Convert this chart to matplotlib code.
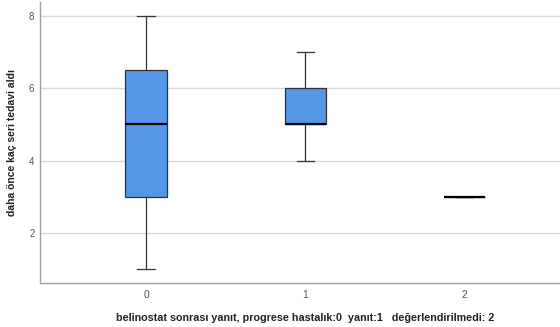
import matplotlib
matplotlib.use("Agg")
import matplotlib.pyplot as plt

categories = ["0", "1", "2"]
whislo = [1, 4, 3]
q1 = [3, 5, 3]
med = [5, 5, 3]
q3 = [6.5, 6, 3]
whishi = [8, 7, 3]
yticks = [2, 4, 6, 8]

plt.rcParams['font.family'] = ['Liberation Sans', 'DejaVu Sans']

fig = plt.figure(figsize=(5.6, 3.27), dpi=100)
ax = fig.add_axes([40/560, 1-283/327, 1-40/560, 281/327])

stats = []
for i, c in enumerate(categories):
    stats.append(dict(label=c, whislo=whislo[i], q1=q1[i], med=med[i],
                      q3=q3[i], whishi=whishi[i], fliers=[]))

ax.bxp(stats, positions=range(len(categories)), widths=0.26, patch_artist=True,
       boxprops=dict(facecolor='#5596e6', edgecolor='#333333', linewidth=0.9),
       medianprops=dict(color='black', linewidth=1.6),
       whiskerprops=dict(color='#333333', linewidth=0.9),
       capprops=dict(color='#333333', linewidth=0.9),
       capwidths=0.11, showfliers=False, zorder=3)

ax.set_xlim(-0.667, 2.6)
ax.set_ylim(0.61, 8.39)
ax.set_yticks(yticks)
ax.set_yticklabels([str(t) for t in yticks])
ax.grid(axis='y', color='#d9d9d9', linewidth=1.0, zorder=0)
ax.set_axisbelow(True)
for s in ['top', 'right']:
    ax.spines[s].set_visible(False)
for s in ['left', 'bottom']:
    ax.spines[s].set_color('#a0a0a0')
    ax.spines[s].set_linewidth(1.0)
ax.tick_params(axis='both', length=0, colors='#555555', labelsize=7)
ax.tick_params(axis='x', pad=5, labelsize=7.5)
ax.tick_params(axis='y', pad=4)
ax.set_xlabel("belinostat sonrası yanıt, progrese hastalık:0  yanıt:1   değerlendirilmedi: 2",
              fontsize=7.75, fontweight='bold', color='#222222')
ax.xaxis.set_label_coords((305-40)/520, -(313-283)/281)
ax.set_ylabel("daha önce kaç seri tedavi aldı", fontsize=7.5, fontweight='bold',
              color='#222222')
ax.yaxis.set_label_coords((17-40)/520, (283-142)/281)

fig.savefig("out.png", dpi=100)
